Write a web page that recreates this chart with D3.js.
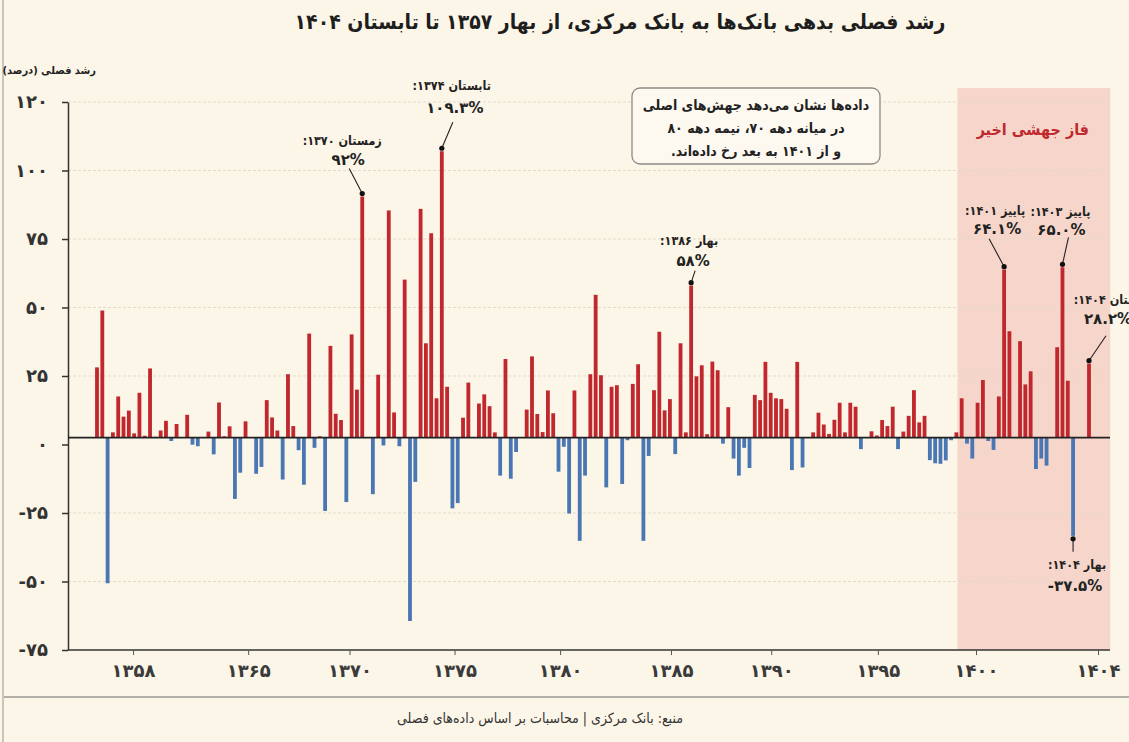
<!DOCTYPE html>
<html lang="fa">
<head>
<meta charset="utf-8">
<script src="https://cdn.jsdelivr.net/npm/d3@7/dist/d3.min.js"></script>
<style>
    html, body { margin: 0; padding: 0; background: #fcf6e8; }
    #container { width: 1129px; height: 742px; }
    svg { display: block; font-family: "DejaVu Sans Condensed", "DejaVu Sans", sans-serif; }
</style>
</head>
<body>
<div id="container"></div>
<script>
/* quarterly growth (%) of banks' debt to the central bank, one entry per bar slot, null = empty slot */
const values = [
    26.8, 48.5, -55.6, 2.0, 15.7, 8.0, 10.3, 1.6, 17.1, 0.7,
    26.4, 0.3, 2.7, 6.4, -1.3, 5.2, null, 8.7, -2.7, -3.3,
    null, 2.3, -6.4, 13.4, 0.5, 4.3, -23.4, -13.4, 6.2, null,
    -13.8, -11.2, 14.3, 7.7, 2.7, -16, 24.2, 4.4, -4.8, -18,
    39.7, -3.9, 0.5, -28, 35, 9.1, 6.7, -24.6, 39.4, 18.3,
    92, null, -21.6, 24, -3, 86.7, 9.6, -3.3, 60.3, -70,
    -16.9, 87.3, 36, 78, 15, 109.3, 19.4, -27, -25, 7.6,
    21, null, 13, 16.5, 12, 2, -14.5, 30, -15.7, -5.5,
    null, 10.7, 31, 9, 2.1, 18, 9.3, -13, -3.5, -29,
    18, -39.4, -14.5, 24.2, 54.5, 23.8, -19, 19.4, 20, -17.7,
    -1, 20.5, 28, -39.4, -7, 18.1, 40.4, 10.4, 14.7, -6.3,
    36, 2, 58, 23.4, 27.6, 1.3, 29, 25.7, -2.3, 11.6,
    -8, -14.5, -3.9, -11.6, 16.3, 14.3, 28.9, 17.1, 15, 14.7,
    11, -12.4, 28.9, -11.4, null, 2, 9.5, 5, 1.4, 6.8,
    13.3, 2, 13.3, 11.8, -4.4, null, 2.4, 0.8, 6.7, 4.4,
    11.8, -4.4, 2.3, 8.3, 18.1, 5.8, 8.3, -8.6, -9.8, -10,
    -8.7, -1, 2, 15, -2.3, -8, 13.3, 22, -1.3, -4.7,
    15.7, 64.1, 40.6, null, 36.8, 20.3, 25.3, -12, -8, -10.7,
    null, 34.5, 65, 21.7, -37.5, null, null, 28.2
];

const yTicks = [120, 100, 75, 50, 25, 0, -25, -50, -75];

const yearLabels = ['۱۳۵۸', '۱۳۶۵', '۱۳۷۰', '۱۳۷۵', '۱۳۸۰', '۱۳۸۵', '۱۳۹۰', '۱۳۹۵', '۱۴۰۰', '۱۴۰۴'];
/* bar slot under each year label (fractional) */
const yearTickBars = [6.8, 28.5, 47.6, 67.4, 87.3, 108.2, 127.1, 147.2, 165.7, 188.7];

const calloutBars = [50, 65, 112, 171, 182, 187, 184];
const calloutTitles = ['زمستان ۱۳۷۰:', 'تابستان ۱۳۷۴:', 'بهار ۱۳۸۶:', 'پاییز ۱۴۰۱:', 'پاییز ۱۴۰۳:', 'تابستان ۱۴۰۴:', 'بهار ۱۴۰۴:'];
const calloutValues = ['۹۲%', '۱۰۹.۳%', '۵۸%', '۶۴.۱%', '۶۵.۰%', '۲۸.۲%', '-۳۷.۵%'];

const noteLines = [
    'داده‌ها نشان می‌دهد جهش‌های اصلی',
    'در میانه دهه ۷۰، نیمه دهه ۸۰',
    'و از ۱۴۰۱ به بعد رخ داده‌اند.'
];

const phaseBars = [162.2, 191];
const phaseLabel = 'فاز جهشی اخیر';

const titleText = 'رشد فصلی بدهی بانک‌ها به بانک مرکزی، از بهار ۱۳۵۷ تا تابستان ۱۴۰۴';
const yTitleText = 'رشد فصلی (درصد)';
const sourceText = 'منبع: بانک مرکزی  |  محاسبات بر اساس داده‌های فصلی';

const toFa = (s) => String(s).replace(/\d/g, (d) => '۰۱۲۳۴۵۶۷۸۹'[d]);

class DebtChart {
    constructor(options) {
        this._opt = options;
        this.container = document.querySelector('#container');
        this.svg = d3.select(this.container)
            .append('svg')
            .attr('width', options.width)
            .attr('height', options.height)
            .style('background-color', options.background);

        this._createScales();
        this._drawFrame();
        this._drawPhase();
        this._drawGrid();
        this._drawAxes();
        this._drawBars();
        this._drawZeroLine();
        this._drawNote();
        this._drawCallouts();
        this._drawTexts();
    }

    _createScales() {
        const opt = this._opt;
        this.x = d3.scaleLinear()
            .domain([0, values.length - 1])
            .range([opt.plot.firstBar, opt.plot.lastBar]);
        this.barWidth = (this.x(1) - this.x(0)) * 0.72;

        /* bar heights */
        this.y = d3.scaleLinear()
            .domain([0, 100])
            .range([opt.plot.zero, opt.plot.zero - 100 * opt.plot.pxPerUnit]);

        /* printed scale on the left, evenly spaced labels */
        this.yAxisScale = d3.scalePoint()
            .domain(yTicks)
            .range([opt.plot.top, opt.plot.bottom]);
    }

    _drawFrame() {
        const opt = this._opt;
        this.svg.append('line')
            .attr('x1', 3).attr('x2', 3)
            .attr('y1', 0).attr('y2', opt.height)
            .attr('stroke', '#b9b5ad')
            .attr('stroke-width', 1.5);

        this.svg.append('line')
            .attr('x1', 4).attr('x2', opt.width)
            .attr('y1', 697).attr('y2', 697)
            .attr('stroke', '#6b6b6b')
            .attr('stroke-width', 1.2);
    }

    _drawPhase() {
        const opt = this._opt;
        const x0 = this.x(phaseBars[0]);
        const x1 = this.x(phaseBars[1]);
        this.svg.append('rect')
            .attr('x', x0)
            .attr('y', opt.plot.phaseTop)
            .attr('width', x1 - x0)
            .attr('height', opt.plot.bottom - opt.plot.phaseTop)
            .attr('fill', '#f6d6cb');

        this.svg.append('text')
            .attr('x', (x0 + x1) / 2 - 1)
            .attr('y', 129)
            .attr('dy', '0.35em')
            .attr('direction', 'rtl')
            .attr('text-anchor', 'middle')
            .attr('font-size', 16)
            .attr('font-weight', 'bold')
            .attr('fill', opt.colors.up)
            .text(phaseLabel);
    }

    _drawGrid() {
        const opt = this._opt;
        this.svg.append('g')
            .attr('class', 'grid')
            .selectAll('line')
            .data(yTicks.filter((t) => t !== 0 && t !== -75))
            .join('line')
            .attr('x1', opt.plot.left)
            .attr('x2', opt.plot.right)
            .attr('y1', (d) => this.yAxisScale(d))
            .attr('y2', (d) => this.yAxisScale(d))
            .attr('stroke', '#e3d9c7')
            .attr('stroke-width', 1)
            .attr('stroke-dasharray', '3,2');
    }

    _drawAxes() {
        const opt = this._opt;

        const yAxis = this.svg.append('g')
            .attr('transform', `translate(${opt.plot.left},0)`)
            .call(d3.axisLeft(this.yAxisScale)
                .tickSize(6)
                .tickSizeOuter(0)
                .tickPadding(14)
                .tickFormat((d) => toFa(d)));
        yAxis.select('.domain').attr('stroke', '#333').attr('stroke-width', 1.5);
        yAxis.selectAll('.tick line').attr('stroke', '#333').attr('stroke-width', 1.5);
        yAxis.selectAll('.tick text')
            .attr('direction', 'ltr')
            .attr('font-family', '"DejaVu Sans", sans-serif')
            .attr('font-size', 18)
            .attr('font-weight', 'bold')
            .attr('fill', '#333');

        /* horizontal axis line along the bottom */
        this.svg.append('line')
            .attr('x1', opt.plot.left).attr('x2', opt.plot.right)
            .attr('y1', opt.plot.bottom).attr('y2', opt.plot.bottom)
            .attr('stroke', '#333')
            .attr('stroke-width', 1.5);

        const xAxis = this.svg.append('g')
            .attr('transform', `translate(0,${opt.plot.bottom})`)
            .call(d3.axisBottom(this.x)
                .tickValues(yearTickBars)
                .tickSize(5)
                .tickPadding(9)
                .tickFormat((d, i) => yearLabels[i]));
        xAxis.select('.domain').remove();
        xAxis.selectAll('.tick line').attr('stroke', '#555');
        xAxis.selectAll('.tick text')
            .attr('direction', 'ltr')
            .attr('font-family', '"DejaVu Sans", sans-serif')
            .attr('font-size', 18)
            .attr('font-weight', 'bold')
            .attr('fill', '#3a3a3a');
    }

    _drawBars() {
        const opt = this._opt;
        const bars = values
            .map((v, i) => ({ index: i, value: v }))
            .filter((d) => d.value !== null);

        this.svg.append('g')
            .attr('class', 'bars')
            .selectAll('rect')
            .data(bars)
            .join('rect')
            .attr('x', (d) => this.x(d.index) - this.barWidth / 2)
            .attr('y', (d) => this.y(Math.max(0, d.value)))
            .attr('width', this.barWidth)
            .attr('height', (d) => Math.abs(this.y(d.value) - this.y(0)))
            .attr('fill', (d) => d.value >= 0 ? opt.colors.up : opt.colors.down);
    }

    _drawZeroLine() {
        const opt = this._opt;
        this.svg.append('line')
            .attr('x1', opt.plot.left).attr('x2', opt.plot.right)
            .attr('y1', this.y(0)).attr('y2', this.y(0))
            .attr('stroke', '#222')
            .attr('stroke-width', 1.6);
    }

    _drawNote() {
        const box = this._opt.note;
        const g = this.svg.append('g').attr('class', 'note');
        g.append('rect')
            .attr('x', box.x).attr('y', box.y)
            .attr('width', box.w).attr('height', box.h)
            .attr('rx', 8)
            .attr('fill', '#fdf9f1')
            .attr('stroke', '#8c8a85')
            .attr('stroke-width', 1.3);

        g.selectAll('text')
            .data(noteLines)
            .join('text')
            .attr('x', box.x + box.w / 2)
            .attr('y', (d, i) => box.y + 17 + i * 23)
            .attr('dy', '0.35em')
            .attr('direction', 'rtl')
            .attr('text-anchor', 'middle')
            .attr('font-size', 14)
            .attr('font-weight', 'bold')
            .attr('fill', '#222')
            .text((d) => d);
    }

    _drawCallouts() {
        const layout = this._opt.callouts;
        const g = this.svg.append('g').attr('class', 'callouts');

        calloutBars.forEach((bar, i) => {
            const v = values[bar];
            const l = layout[i];
            const cx = this.x(bar);
            const cy = this.y(v) + (v >= 0 ? -3 : 3);

            g.append('line')
                .attr('x1', cx + l.lx).attr('y1', cy + l.ly)
                .attr('x2', cx).attr('y2', cy)
                .attr('stroke', '#222')
                .attr('stroke-width', 1.1);
            g.append('circle')
                .attr('cx', cx).attr('cy', cy)
                .attr('r', 2.6)
                .attr('fill', '#111');
            g.append('text')
                .attr('x', cx + l.tx).attr('y', cy + l.ty)
                .attr('dy', '0.35em')
                .attr('direction', 'rtl')
                .attr('text-anchor', 'middle')
                .attr('font-size', 12.5)
                .attr('font-weight', 'bold')
                .attr('fill', '#222')
                .text(calloutTitles[i]);
            g.append('text')
                .attr('x', cx + l.vx).attr('y', cy + l.vy)
                .attr('dy', '0.35em')
                .attr('direction', 'ltr')
                .attr('text-anchor', 'middle')
                .attr('font-family', '"DejaVu Sans", sans-serif')
                .attr('font-size', 15)
                .attr('font-weight', 'bold')
                .attr('fill', '#222')
                .text(calloutValues[i]);
        });
    }

    _drawTexts() {
        this.svg.append('text')
            .attr('x', 620).attr('y', 22)
            .attr('dy', '0.35em')
            .attr('direction', 'rtl')
            .attr('text-anchor', 'middle')
            .attr('font-size', 21)
            .attr('font-weight', 'bold')
            .attr('fill', '#1e1e1e')
            .text(titleText);

        this.svg.append('text')
            .attr('x', 96).attr('y', 70)
            .attr('dy', '0.35em')
            .attr('direction', 'rtl')
            .attr('text-anchor', 'start')
            .attr('font-size', 11)
            .attr('font-weight', 'bold')
            .attr('fill', '#222')
            .text(yTitleText);

        this.svg.append('text')
            .attr('x', 540).attr('y', 718)
            .attr('dy', '0.35em')
            .attr('direction', 'rtl')
            .attr('text-anchor', 'middle')
            .attr('font-size', 14)
            .attr('fill', '#333')
            .text(sourceText);
    }
}

new DebtChart({
    width: 1129,
    height: 742,
    background: '#fcf6e8',

    plot: {
        left: 68,
        right: 1110,
        top: 102,
        bottom: 650,
        zero: 437.6,
        pxPerUnit: 2.62,
        firstBar: 97,
        lastBar: 1089,
        phaseTop: 88
    },

    colors: {
        up: '#c0282d',
        down: '#4a77b3'
    },

    note: { x: 632, y: 88, w: 248, h: 76 },

    /* text and leader offsets from each callout dot */
    callouts: [
        { tx: -20, ty: -53, vx: -14, vy: -34, lx: -13, ly: -25 },
        { tx: 10, ty: -63, vx: 13, vy: -40, lx: 11, ly: -26 },
        { tx: -2, ty: -42, vx: 2, vy: -22, lx: 4, ly: -12 },
        { tx: -9, ty: -56, vx: -7, vy: -38, lx: -15, ly: -28 },
        { tx: -2, ty: -53, vx: -1, vy: -35, lx: 6, ly: -27 },
        { tx: 24, ty: -61, vx: 19, vy: -42, lx: 17, ly: -25 },
        { tx: 4, ty: 26, vx: 2, vy: 47, lx: 0, ly: 13 }
    ]
});
</script>
</body>
</html>
